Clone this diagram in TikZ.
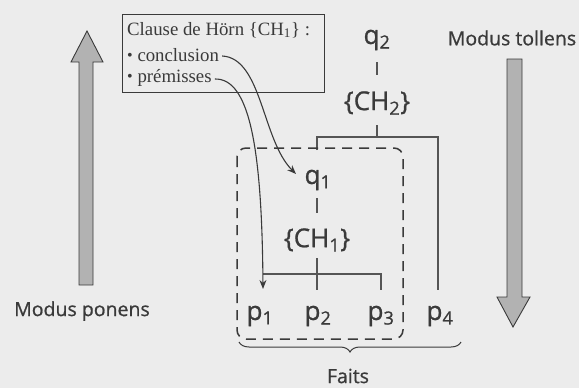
\documentclass[tikz,border=0pt]{standalone}
\usepackage{fontspec}
\setmainfont{Open Sans}[FakeBold=0.8]
\newfontfamily\seriffont{Liberation Serif}
\usetikzlibrary{arrows.meta,decorations.pathreplacing}
\definecolor{bg}{HTML}{ECECEC}
\definecolor{ink}{HTML}{3A3A3A}
\definecolor{treeline}{HTML}{555555}
\definecolor{arrowfill}{HTML}{B2B2B2}
\tikzset{
  lbl/.style={inner sep=0pt, text=ink, font=\fontsize{26}{28}\selectfont},
  side/.style={inner sep=0pt, text=ink, font=\fontsize{19.5}{22}\selectfont},
  serif/.style={anchor=west, inner sep=0pt, text=ink, font=\seriffont\fontsize{18.8}{20}\selectfont},
  tree/.style={draw=treeline, line width=2pt},
  curvearrow/.style={draw=ink, line width=1.1pt, -{Stealth[length=9pt,width=7pt]}},
  bigarrow/.style={draw=ink, fill=arrowfill, line width=0.9pt, line join=miter},
}
\newcommand{\mybullet}{{\fontsize{16}{16}\selectfont\raisebox{1pt}{•}}}
\begin{document}
\begin{tikzpicture}[x=1pt,y=-1pt]
\fill[bg] (0,0) rectangle (579,388);
\useasboundingbox (0,0) rectangle (579,388);
% big arrows
\draw[bigarrow] (79,285) -- (79,62) -- (71,62) -- (87,31) -- (103,62) -- (93,62) -- (93,285) -- cycle;
\draw[bigarrow] (507,59) -- (507,297) -- (497,297) -- (513,327) -- (530,297) -- (522,297) -- (522,59) -- cycle;
\node[side] (mp) at (82,311) {Modus ponens};
\node[side] (mt) at (512,38) {Modus tollens};
% box
\node[draw=ink, line width=0.9pt, fill=bg, minimum width=202pt, minimum height=78pt, inner sep=0pt] (box) at (223,53) {};
\node[serif] (title) at (127,30) {Clause de Hörn \{CH\textsubscript{1}\} :};
\node[serif] (concl) at (127,55) {\mybullet\ conclusion};
\node[serif] (prem) at (127,78) {\mybullet\ prémisses};
% tree labels
\node[lbl] (q2) at (377,40) {q\textsubscript{2}};
\node[lbl] (ch2) at (377,103) {\{CH\textsubscript{2}\}};
\node[lbl] (q1) at (318,180) {q\textsubscript{1}};
\node[lbl] (ch1) at (317,240) {\{CH\textsubscript{1}\}};
\node[lbl] (p1) at (260,316) {p\textsubscript{1}};
\node[lbl] (p2) at (318,316) {p\textsubscript{2}};
\node[lbl] (p3) at (381,316) {p\textsubscript{3}};
\node[lbl] (p4) at (440,316) {p\textsubscript{4}};
\node[side] (faits) at (348,376) {Faits};
% coordinates
\coordinate (a1) at (377,62);
\coordinate (a2) at (377,75);
\coordinate (b1) at (377,125);
\coordinate (b2) at (377,137);
\coordinate (bl) at (317,137);
\coordinate (br) at (438,137);
\coordinate (q1t) at (317,150);
\coordinate (p4t) at (438,290);
\coordinate (c1) at (317,198);
\coordinate (c2) at (317,213);
\coordinate (d1) at (317,258);
\coordinate (dl) at (263,274);
\coordinate (dm) at (317,274);
\coordinate (dr) at (381,274);
\coordinate (p2t) at (317,290);
\coordinate (p3t) at (381,290);
\coordinate (p1t) at (263,289);
% tree lines
\draw[tree] (a1) -- (a2);
\draw[tree] (b1) -- (b2);
\draw[tree] (q1t) -- (bl) -- (br) -- (p4t);
\draw[tree] (c1) -- (c2);
\draw[tree] (d1) -- (dm) -- (p2t);
\draw[tree] (dl) -- (dr) -- (p3t);
% dashed box
\draw[draw=ink, line width=1.5pt, dash pattern=on 10pt off 7pt, rounded corners=9pt] (237,148) rectangle (403,339);
% curved arrows
\draw[curvearrow] (concl.east) ++(3,1) .. controls (262,58) and (262,140) .. (296,174);
\draw[curvearrow] (prem.east) ++(3,1) .. controls (250,78) and (262,150) .. (p1t);
% brace
\draw[draw=ink, line width=1pt, decorate, decoration={brace, amplitude=10pt, mirror}] (239,342) -- (461,342);
\end{tikzpicture}
\end{document}
